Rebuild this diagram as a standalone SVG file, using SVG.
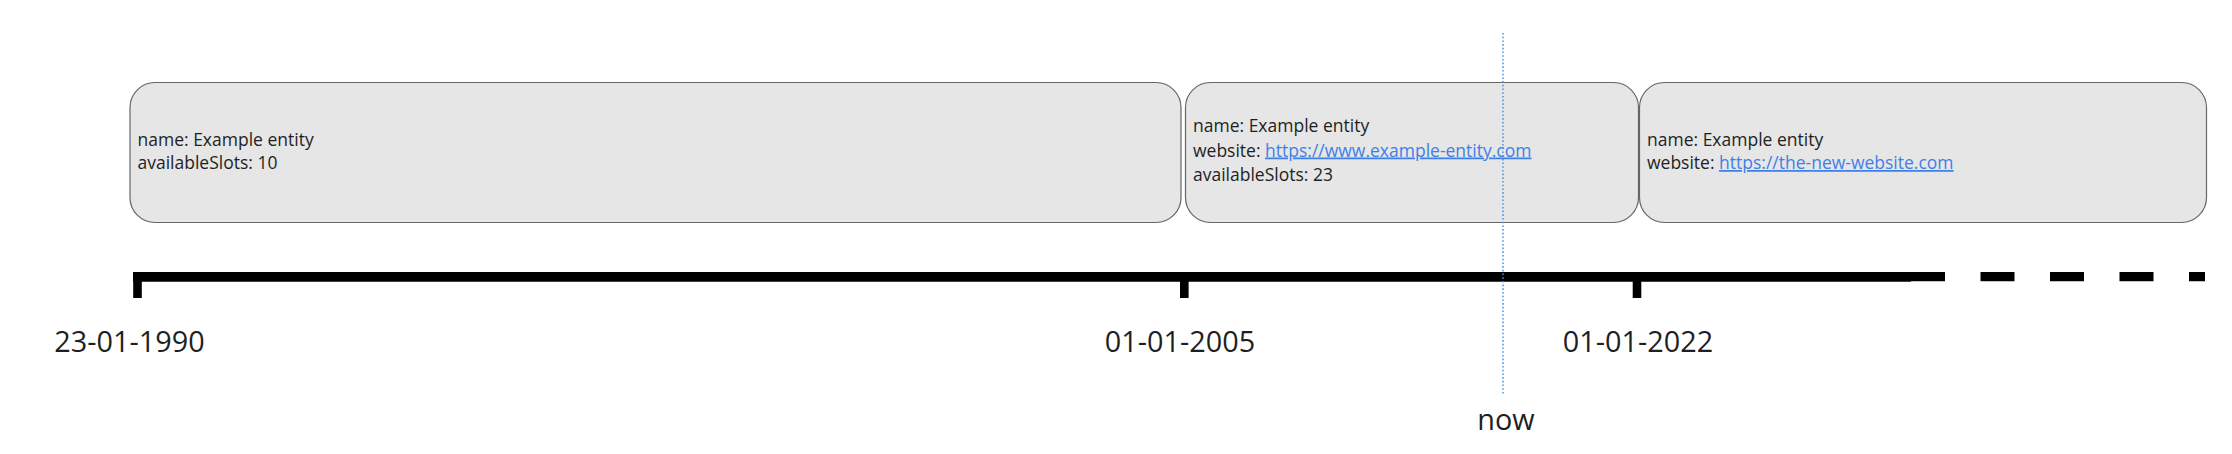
<svg xmlns="http://www.w3.org/2000/svg" width="2232" height="454" viewBox="0 0 2232 454">
<style>
.box{fill:#e6e6e6;stroke:#666666;stroke-width:1.2}
.t{font-family:"Open Sans","Noto Sans","Liberation Sans",sans-serif;font-size:17.5px;fill:#1f1f1f}
.lnk{fill:#3f7fe8;text-decoration:underline}
.date{font-family:"Open Sans","Noto Sans","Liberation Sans",sans-serif;font-size:28.8px;fill:#1f1f1f;text-anchor:middle}
.axis{stroke:#000;fill:none;stroke-linecap:butt}
</style>
<rect width="2232" height="454" fill="#ffffff"/>
<g id="period-1990">
<rect class="box" x="130" y="82.5" width="1051" height="140" rx="25" ry="25"/>
<text class="t" x="137.5" y="145.5">name: Example entity</text>
<text class="t" x="137.5" y="169">availableSlots: 10</text>
</g>
<g id="period-2005">
<rect class="box" x="1185.5" y="82.5" width="453" height="140" rx="25" ry="25"/>
<text class="t" x="1193" y="132">name: Example entity</text>
<text class="t" x="1193" y="156.5">website: <tspan class="lnk">https://www.example-entity.com</tspan></text>
<text class="t" x="1193" y="181">availableSlots: 23</text>
</g>
<g id="period-2022">
<rect class="box" x="1639.5" y="82.5" width="567" height="140" rx="25" ry="25"/>
<text class="t" x="1647" y="145.5">name: Example entity</text>
<text class="t" x="1647" y="169">website: <tspan class="lnk">https://the-new-website.com</tspan></text>
</g>
<g id="connectors">
<line class="axis" x1="133" y1="276.9" x2="1911" y2="276.9" stroke-width="9.7"/>
<line class="axis" x1="1911" y1="276.7" x2="2205" y2="276.7" stroke-width="9.3" stroke-dasharray="34 35.5"/>
<line class="axis" x1="137.5" y1="272" x2="137.5" y2="298" stroke-width="8.6"/>
<line class="axis" x1="1184.3" y1="272" x2="1184.3" y2="298" stroke-width="8.6"/>
<line class="axis" x1="1637" y1="272" x2="1637" y2="298" stroke-width="8.6"/>
<line x1="1503" y1="33" x2="1503" y2="395" stroke="#4a92e6" stroke-width="1.5" stroke-dasharray="1.6 2.1"/>
</g>
<g id="labels">
<text class="date" x="129.5" y="352">23-01-1990</text>
<text class="date" x="1180" y="352">01-01-2005</text>
<text class="date" x="1638" y="352">01-01-2022</text>
<text class="date" x="1506" y="430">now</text>
</g>
</svg>
